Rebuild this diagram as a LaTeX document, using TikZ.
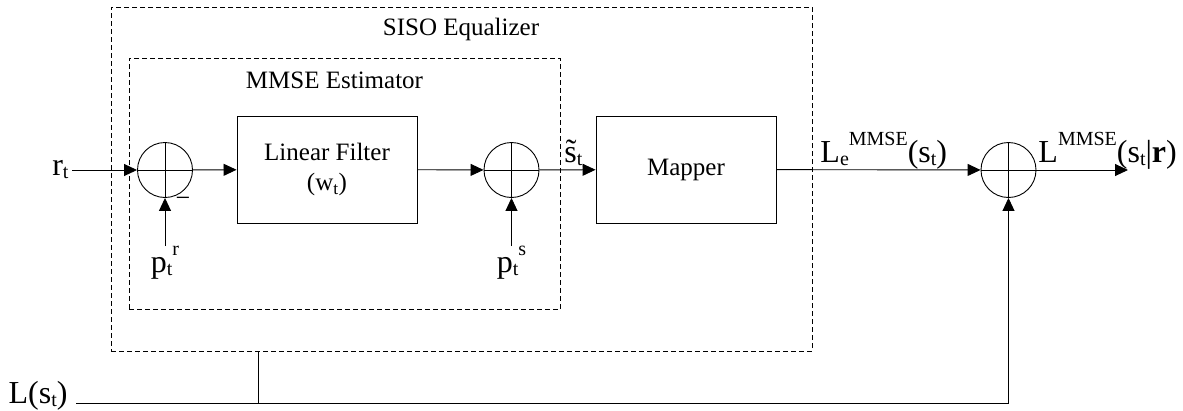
\documentclass[tikz,border=0pt]{standalone}
\usepackage{fontspec}
\setmainfont{Liberation Serif}
\usepackage{tikz}
\usetikzlibrary{positioning,arrows.meta}
\newcommand{\blkfont}{\fontsize{25}{30}\selectfont}
\newcommand{\sigfont}{\fontsize{32}{36}\selectfont}
\newcommand{\subx}[1]{\raisebox{-3pt}{\fontsize{20}{20}\selectfont #1}}
\newcommand{\supx}[1]{\raisebox{17pt}{\fontsize{20}{20}\selectfont #1}}

\begin{document}
\begin{tikzpicture}[
  x=1pt, y=-1pt,
  line width=0.9pt,
  arr/.style={-{Triangle[length=13pt,width=12pt]}},
  block/.style={rectangle, draw, minimum width=180pt, minimum height=107pt,
                align=center, font=\blkfont},
  group/.style={rectangle, draw, dash pattern=on 5pt off 3pt, line width=0.7pt,
                inner sep=0pt},
  sumnode/.style={circle, draw, minimum size=55pt, inner sep=0pt,
                  path picture={\draw (path picture bounding box.north) -- (path picture bounding box.south)
                                      (path picture bounding box.west) -- (path picture bounding box.east);}},
  sig/.style={font=\sigfont, inner sep=0pt},
  title/.style={font=\blkfont},
]
\useasboundingbox (0,0) rectangle (1183,410);

\node[group, minimum width=701pt, minimum height=344pt] (siso) at (461.5,179) {};
\node[group, minimum width=431.5pt, minimum height=251pt] (mmse) at (344.75,183.5) {};
\node[title] (sisotitle) at (461,29) {SISO Equalizer};
\node[title] (mmsetitle) at (334.5,80) {MMSE Estimator};

\node[sumnode] (sum1) at (165,170) {};
\node[sumnode] (sum2) at (511.5,170) {};
\node[sumnode] (sum3) at (1008.5,170) {};
\node[block] (filt) at (327,169.5) {Linear Filter\\(w\textsubscript{t})};
\node[block] (map) at (686,169.5) {Mapper};

\node[sig, anchor=east, inner sep=3pt] (rin) at (72,170) {r\subx{t}};
\node[sig, anchor=north] (pr) at (165,246) {p\subx{t}\supx{r}};
\node[sig, anchor=north] (ps) at (511.5,246) {p\subx{t}\supx{s}};
\node[font=\fontsize{26}{26}\selectfont, inner sep=0pt] (neg) at (183,202) {−};
\node[sig, anchor=base west] (stl) at (564,162) {\~{s}\subx{t}};
\node[sig, anchor=base west] (le) at (820,162) {L\subx{e}\supx{MMSE}(s\subx{t})};
\node[sig, anchor=base west] (lout) at (1038,162) {L\supx{MMSE}(s\subx{t}|\textbf{r})};
\coordinate (out) at (1128,170);

\coordinate (lin) at (76,403);
\node[sig, anchor=base east] (lst) at (68,403) {L(s\subx{t})};
\coordinate (tap) at (258,403);

\draw[arr] (rin) -- (sum1);
\draw[arr] (sum1) -- (filt);
\draw[arr] (filt) -- (sum2);
\draw[arr] (sum2) -- (map);
\draw[arr] (map) -- (sum3);
\draw[arr] (sum3) -- (out);
\draw[arr] (pr) -- (sum1);
\draw[arr] (ps) -- (sum2);
\draw[arr] (lin) -| (sum3);
\draw (tap) -- (tap |- siso.south);

\end{tikzpicture}
\end{document}
